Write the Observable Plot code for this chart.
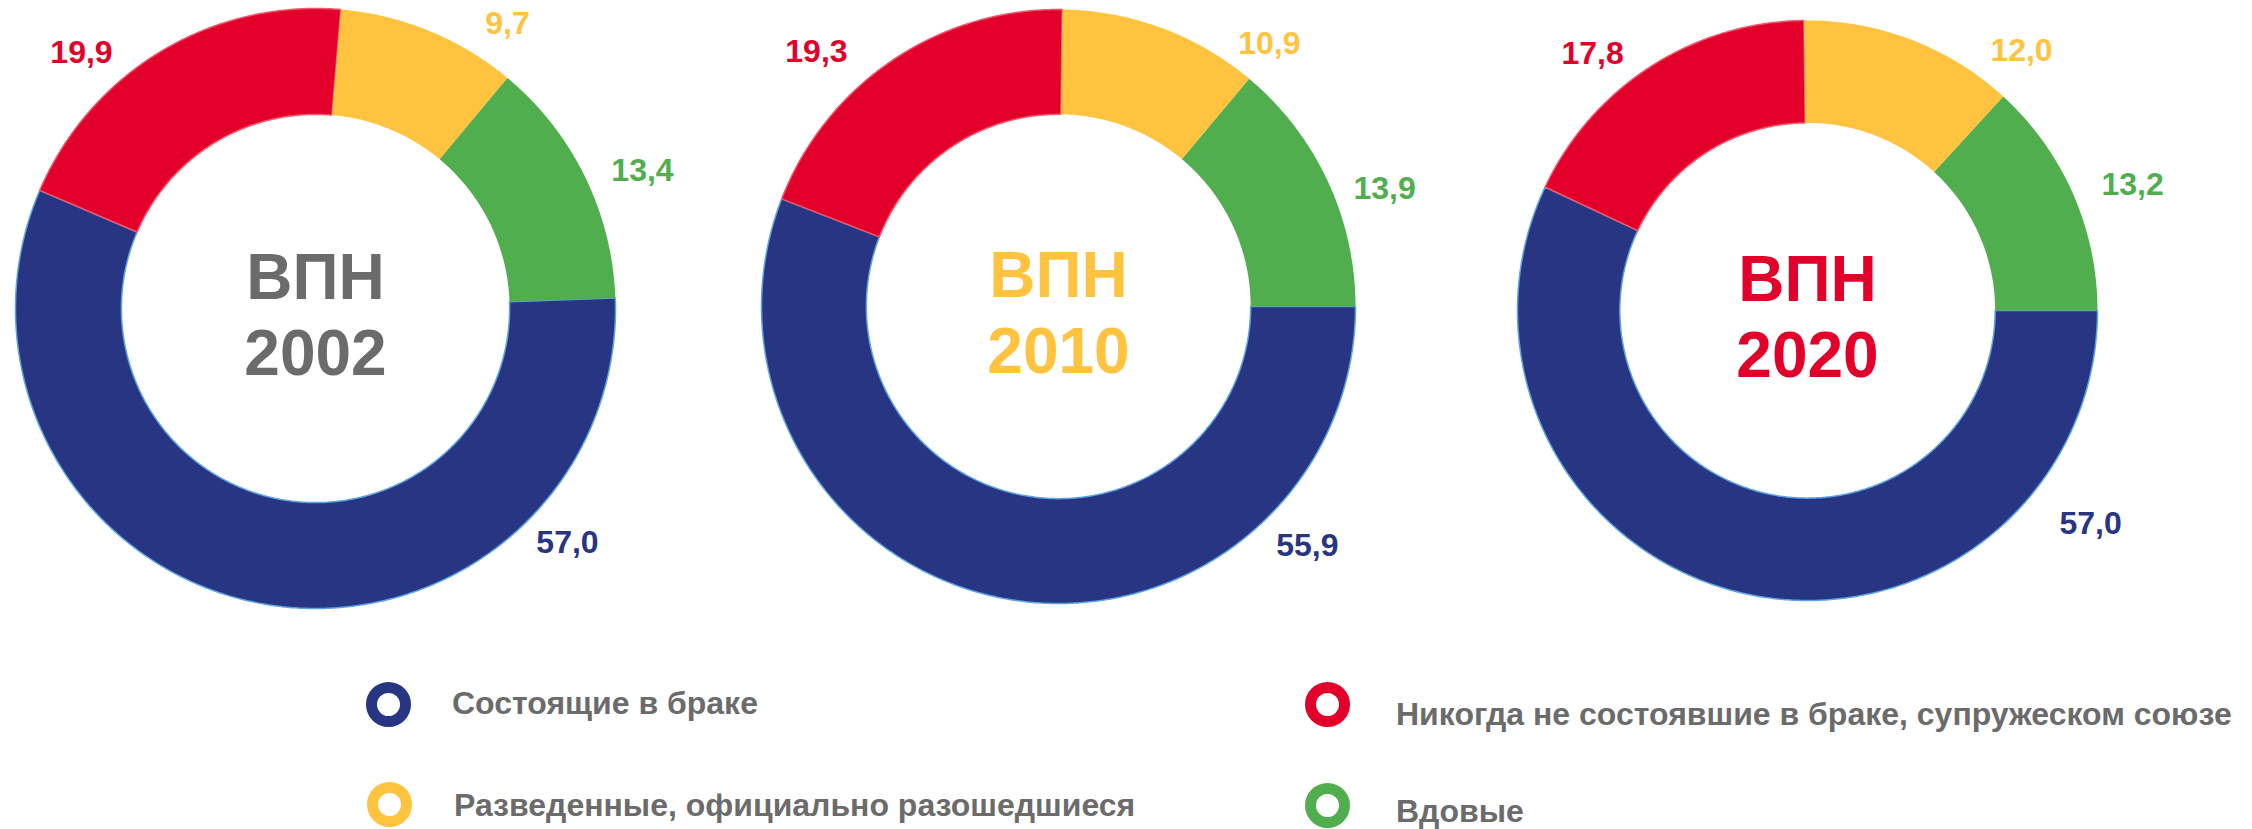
<!DOCTYPE html>
<html>
<head>
<meta charset="utf-8">
<script src="https://cdn.jsdelivr.net/npm/d3@7"></script>
<script src="https://cdn.jsdelivr.net/npm/@observablehq/plot@0.6"></script>
<style>
  html, body { margin: 0; padding: 0; background: #ffffff; }
  body { width: 2252px; height: 829px; overflow: hidden; font-family: "Liberation Sans", Arial, sans-serif; }
  #chart { position: relative; width: 2252px; height: 829px; }
  .donut { position: absolute; top: 0; }
  .marker { position: absolute; width: 45px; height: 45px; box-sizing: border-box; border-radius: 50%; border-style: solid; border-width: 11px; }
  .ltext { position: absolute; font-size: 32px; font-weight: bold; color: #6B6B6B; line-height: 30px; white-space: nowrap; }
</style>
</head>
<body>
<div id="chart"></div>
<script>
// ---------------- DATA ----------------
const years = ["2002", "2010", "2020"];
const categories = [
  "Состоящие в браке",
  "Никогда не состоявшие в браке, супружеском союзе",
  "Разведенные, официально разошедшиеся",
  "Вдовые"
];
const married      = [57.0, 55.9, 57.0];
const neverMarried = [19.9, 19.3, 17.8];
const divorced     = [9.7, 10.9, 12.0];
const widowed      = [13.4, 13.9, 13.2];
const centerPrefix = "ВПН";

// ---------------- STYLE ----------------
const seriesColors = ["#283583", "#E2002B", "#FFC33F", "#50AE4F"];
const sliceStrokes = ["#5BA3E3", "#F0566C", "none", "none"];
const yearColors = ["#6B6B6B", "#FFC33F", "#E2002B"];

// ---------------- LAYOUT ----------------
const plotHeight = 640;
const innerRatio = 0.647;
const donutLayout = [
  { left: 0,    right: 720,  cx: 315,  cy: 308, R: 300, rotate: -2 },
  { left: 720,  right: 1470, cx: 1058, cy: 306, R: 297, rotate: 0 },
  { left: 1470, right: 2252, cx: 1807, cy: 310, R: 290, rotate: 0 }
];
// label offsets (in units of outer radius, y up), order: married, never, divorced, widowed
const labelOffsets = [
  [[0.84, -0.78], [-0.78, 0.853], [0.64, 0.95], [1.09, 0.46]],
  [[0.838, -0.805], [-0.815, 0.859], [0.71, 0.886], [1.098, 0.397]],
  [[0.976, -0.734], [-0.741, 0.886], [0.738, 0.897], [1.121, 0.434]]
];
const legendLayout = [
  { cat: 0, mx: 388,  my: 704, tx: 452,  ty: 702 },
  { cat: 2, mx: 389,  my: 804, tx: 454,  ty: 804 },
  { cat: 1, mx: 1327, my: 704, tx: 1396, ty: 713 },
  { cat: 3, mx: 1327, my: 805, tx: 1396, ty: 810 }
];

const fmt = v => v.toFixed(1).replace(".", ",");
const chart = document.getElementById("chart");

years.forEach((year, i) => {
  const L = donutLayout[i];
  const values = [married[i], neverMarried[i], divorced[i], widowed[i]];
  const a0 = Math.PI / 2 + L.rotate * Math.PI / 180;
  const arcs = d3.pie().sort(null).value(d => d)
    .startAngle(a0).endAngle(a0 + 2 * Math.PI)(values);

  const sliceMarks = arcs.map((a, k) => {
    const n = Math.max(2, Math.ceil((a.endAngle - a.startAngle) / (Math.PI / 360)));
    const pts = [];
    for (let t = 0; t <= n; t++) {
      const ang = a.startAngle + (a.endAngle - a.startAngle) * t / n;
      pts.push({ x: Math.sin(ang), y: Math.cos(ang) });
    }
    for (let t = n; t >= 0; t--) {
      const ang = a.startAngle + (a.endAngle - a.startAngle) * t / n;
      pts.push({ x: innerRatio * Math.sin(ang), y: innerRatio * Math.cos(ang) });
    }
    return Plot.line(pts, {
      x: "x", y: "y", curve: "linear-closed",
      fill: seriesColors[k], stroke: sliceStrokes[k], strokeWidth: 1.5
    });
  });

  const labels = values.map((v, k) => ({
    x: labelOffsets[i][k][0], y: labelOffsets[i][k][1],
    text: fmt(v), color: seriesColors[k]
  }));

  const W = L.right - L.left;
  const ox = L.cx - L.left;
  const plot = Plot.plot({
    width: W,
    height: plotHeight,
    margin: 0,
    style: { fontFamily: "'Liberation Sans', Arial, sans-serif", background: "transparent", overflow: "visible" },
    x: { domain: [-ox / L.R, (W - ox) / L.R], axis: null },
    y: { domain: [-(plotHeight - L.cy) / L.R, L.cy / L.R], axis: null },
    marks: [
      ...sliceMarks,
      Plot.text(labels, {
        x: "x", y: "y", text: "text", fill: "color",
        fontSize: 32, fontWeight: "bold", textAnchor: "middle"
      }),
      Plot.text([year], {
        x: 0, y: 0, text: d => centerPrefix + "\n" + d,
        fill: yearColors[i], fontSize: 64, fontWeight: "bold",
        lineHeight: 1.2, textAnchor: "middle", dy: 4
      })
    ]
  });
  const wrap = document.createElement("div");
  wrap.className = "donut";
  wrap.style.left = L.left + "px";
  wrap.appendChild(plot);
  chart.appendChild(wrap);
});

// ---------------- LEGEND ----------------
legendLayout.forEach(item => {
  const m = document.createElement("div");
  m.className = "marker";
  m.style.borderColor = seriesColors[item.cat];
  m.style.left = (item.mx - 22.5) + "px";
  m.style.top = (item.my - 22.5) + "px";
  chart.appendChild(m);
  const t = document.createElement("div");
  t.className = "ltext";
  t.textContent = categories[item.cat];
  t.style.left = item.tx + "px";
  t.style.top = (item.ty - 14) + "px";
  chart.appendChild(t);
});
</script>
</body>
</html>
